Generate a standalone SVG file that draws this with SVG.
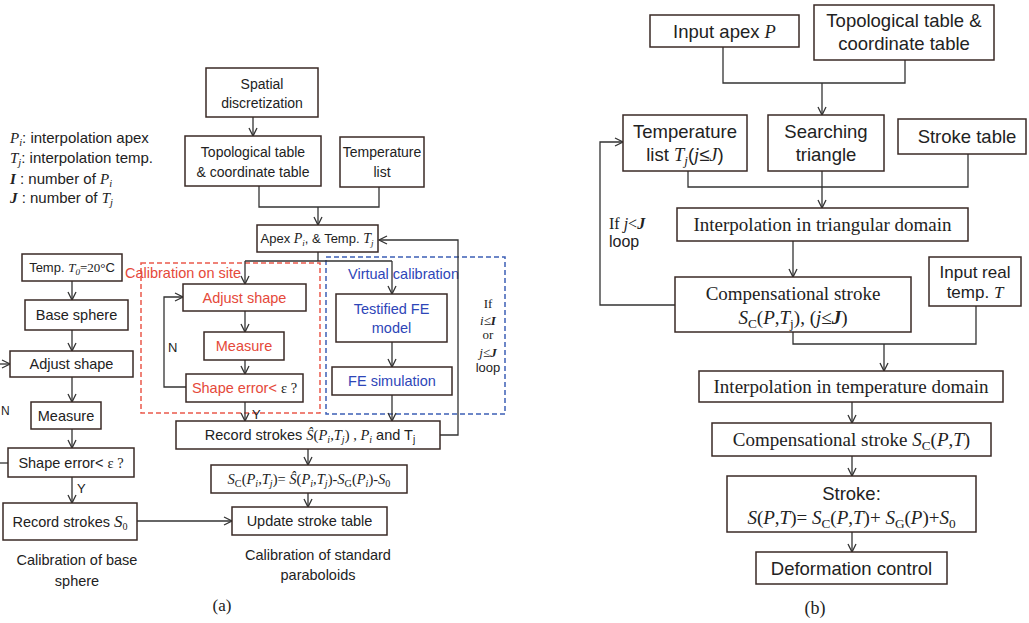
<svg xmlns="http://www.w3.org/2000/svg" width="1029" height="623" viewBox="0 0 1029 623">
<style>
.box{fill:#fff;stroke:#3a2a26;stroke-width:1.5}
.ln{fill:none;stroke:#333;stroke-width:1.3}
.ar{marker-end:url(#ah)}
.s{font-family:"Liberation Sans",Arial,sans-serif;fill:#222}
.r{font-family:"Liberation Serif","Times New Roman",serif;fill:#222}
.i{font-family:"Liberation Serif","Times New Roman",serif;font-style:italic}
.b{font-weight:bold}
.sb{font-size:70%}
.red{fill:#e5493a}
.blue{fill:#2e46b8}
.m{text-anchor:middle}
</style>
<defs>
<marker id="ah" markerWidth="12" markerHeight="12" refX="9" refY="5" orient="auto" markerUnits="userSpaceOnUse"><path d="M1,1 L9,5 L1,9" fill="none" stroke="#333" stroke-width="1.3"/></marker>
</defs>
<rect width="1029" height="623" fill="#fff"/>

<!-- legend -->
<g id="legend" font-size="15">
<text class="s" x="10" y="143"><tspan class="i">P</tspan><tspan class="sb i" dy="3">i</tspan><tspan dy="-3">: interpolation apex</tspan></text>
<text class="s" x="10" y="163"><tspan class="i">T</tspan><tspan class="sb i" dy="3">j</tspan><tspan dy="-3">: interpolation temp.</tspan></text>
<text class="s" x="10" y="184"><tspan class="i b">I</tspan> :  number of <tspan class="i">P</tspan><tspan class="sb i" dy="3">i</tspan></text>
<text class="s" x="10" y="203"><tspan class="i b">J</tspan> :  number of <tspan class="i">T</tspan><tspan class="sb i" dy="3">j</tspan></text>
</g>

<!-- dashed regions -->
<g id="regions">
<rect x="141" y="263" width="179" height="150" fill="none" stroke="#ea5a4c" stroke-width="1.5" stroke-dasharray="5,3"/>
<rect x="326" y="257" width="179" height="157" fill="none" stroke="#3d5fb5" stroke-width="1.5" stroke-dasharray="5,3"/>
<text class="s red" x="125" y="278" font-size="14.5">Calibration on site</text>
<text class="s blue" x="348" y="279" font-size="14.5">Virtual calibration</text>
</g>

<g id="connectors">
<!-- left column -->
<path class="ln ar" d="M72,281 V300"/>
<path class="ln ar" d="M72,330 V351"/>
<path class="ln ar" d="M72,377 V402"/>
<path class="ln ar" d="M72,429 V448"/>
<path class="ln ar" d="M72,477 V503"/>
<path class="ln ar" d="M0,364 H10"/>
<path class="ln" d="M8,463 H0"/>
<path class="ln ar" d="M137,521 H232"/>
<!-- middle -->
<path class="ln ar" d="M253,117 V136"/>
<path class="ln" d="M259,186 V207 H379 V187"/>
<path class="ln ar" d="M318,207 V225"/>
<path class="ln" d="M318,252 V261 M245,261 H392"/>
<path class="ln ar" d="M245,261 V284"/>
<path class="ln ar" d="M392,261 V294"/>
<path class="ln ar" d="M245,311 V332"/>
<path class="ln ar" d="M245,360 V374"/>
<path class="ln ar" d="M186,387 H164 V297 H183"/>
<path class="ln ar" d="M245,402 V421"/>
<path class="ln ar" d="M392,342 V367"/>
<path class="ln ar" d="M392,395 V421"/>
<path class="ln ar" d="M440,435 H458 V240 H379"/>
<path class="ln ar" d="M308,449 V465"/>
<path class="ln ar" d="M308,493 V507"/>
<!-- part b -->
<path class="ln" d="M723,47 V83 H905 V60"/>
<path class="ln ar" d="M822,83 V115"/>
<path class="ln" d="M688,171 V187 H968 V154"/>
<path class="ln ar" d="M822,171 V208"/>
<path class="ln ar" d="M675,305 H600 V142 H623"/>
<path class="ln ar" d="M793,241 V277"/>
<path class="ln" d="M793,332 V344 H976 V306"/>
<path class="ln ar" d="M884,344 V371"/>
<path class="ln ar" d="M852,402 V423"/>
<path class="ln ar" d="M852,456 V476"/>
<path class="ln ar" d="M852,532 V552"/>
</g>

<!-- connector labels -->
<g id="labels" font-size="13">
<text class="s" x="1" y="415" font-size="12">N</text>
<text class="s" x="77" y="493">Y</text>
<text class="s" x="168" y="352">N</text>
<text class="s" x="252" y="419">Y</text>
<text class="r m" x="488" y="308">If</text>
<text class="r m" x="488" y="325"><tspan class="i">i</tspan>≤<tspan class="i b">I</tspan></text>
<text class="r m" x="488" y="339">or</text>
<text class="r m" x="488" y="357"><tspan class="i">j</tspan>≤<tspan class="i b">J</tspan></text>
<text class="s m" x="488" y="372">loop</text>
<text class="r" x="609" y="229" font-size="16">If <tspan class="i">j</tspan>&lt;<tspan class="i b">J</tspan></text>
<text class="s" x="609" y="247" font-size="16">loop</text>
</g>

<!-- left column nodes -->
<g id="temp0"><rect class="box" x="22" y="254" width="100" height="27"/>
<text class="s m" x="72" y="272" font-size="13">Temp. <tspan class="i">T</tspan><tspan class="sb i" dy="3">0</tspan><tspan class="r" dy="-3">=20°</tspan>C</text></g>
<g id="basesphere"><rect class="box" x="25" y="300" width="103" height="30"/>
<text class="s m" x="76.5" y="320" font-size="14.5">Base sphere</text></g>
<g id="adjust0"><rect class="box" x="10" y="351" width="123" height="26"/>
<text class="s m" x="71.5" y="369" font-size="14.5">Adjust shape</text></g>
<g id="measure0"><rect class="box" x="31" y="402" width="70" height="27"/>
<text class="s m" x="66" y="420.5" font-size="14.5">Measure</text></g>
<g id="shapeerr0"><rect class="box" x="8" y="448" width="126" height="29"/>
<text class="s m" x="71" y="468" font-size="14.5">Shape error&lt; <tspan class="r">ε ?</tspan></text></g>
<g id="record0"><rect class="box" x="3" y="503" width="134" height="37"/>
<text class="s m" x="70" y="527" font-size="14.5">Record strokes <tspan class="i" font-size="17">S</tspan><tspan class="r sb" dy="3">0</tspan></text></g>
<text class="s m" x="77" y="565" font-size="14.5">Calibration of base</text>
<text class="s m" x="77" y="586" font-size="14.5">sphere</text>

<!-- middle nodes -->
<g id="spatial"><rect class="box" x="206" y="68" width="112" height="49"/>
<text class="s m" x="262" y="89" font-size="14">Spatial</text>
<text class="s m" x="262" y="108" font-size="14">discretization</text></g>
<g id="topo_a"><rect class="box" x="185" y="136" width="136" height="50"/>
<text class="s m" x="253" y="157" font-size="14">Topological table</text>
<text class="s m" x="253" y="177" font-size="14">&amp; coordinate table</text></g>
<g id="templist_a"><rect class="box" x="340" y="137" width="84" height="50"/>
<text class="s m" x="382" y="157" font-size="14">Temperature</text>
<text class="s m" x="382" y="177" font-size="14">list</text></g>
<g id="apex"><rect class="box" x="257" y="225" width="121" height="27"/>
<text class="s m" x="317" y="243" font-size="13">Apex <tspan class="i" font-size="14">P</tspan><tspan class="sb i" dy="3">i</tspan><tspan dy="-3">, &amp; Temp. </tspan><tspan class="i" font-size="14">T</tspan><tspan class="sb i" dy="3">j</tspan></text></g>
<g id="adjust1"><rect class="box" x="183" y="284" width="123" height="27"/>
<text class="s m red" x="244.5" y="302.5" font-size="14.5">Adjust shape</text></g>
<g id="measure1"><rect class="box" x="204" y="332" width="80" height="28"/>
<text class="s m red" x="244" y="351" font-size="14.5">Measure</text></g>
<g id="shapeerr1"><rect class="box" x="186" y="374" width="117" height="28"/>
<text class="s m red" x="244.5" y="393" font-size="14.5">Shape error&lt; <tspan class="r">ε ?</tspan></text></g>
<g id="fe_model"><rect class="box" x="336" y="294" width="111" height="48"/>
<text class="s m blue" x="391.5" y="314" font-size="14.5">Testified FE</text>
<text class="s m blue" x="391.5" y="333" font-size="14.5">model</text></g>
<g id="fe_sim"><rect class="box" x="332" y="367" width="120" height="28"/>
<text class="s m blue" x="392" y="386" font-size="14.5">FE simulation</text></g>
<g id="record1"><rect class="box" x="176" y="421" width="264" height="28"/>
<text class="s m" x="310" y="440" font-size="14.5">Record strokes <tspan class="i">Ŝ</tspan><tspan class="r">(</tspan><tspan class="i">P</tspan><tspan class="sb i" dy="3">i</tspan><tspan class="r" dy="-3">,</tspan><tspan class="i">T</tspan><tspan class="sb i" dy="3">j</tspan><tspan class="r" dy="-3">) , </tspan><tspan class="i">P</tspan><tspan class="sb i" dy="3">i</tspan><tspan dy="-3"> and T</tspan><tspan class="sb" dy="3">j</tspan></text></g>
<g id="sc_a"><rect class="box" x="211" y="465" width="196" height="28"/>
<text class="r m" x="309" y="484" font-size="14.5"><tspan class="i">S</tspan><tspan class="sb" dy="3">C</tspan><tspan dy="-3">(</tspan><tspan class="i">P</tspan><tspan class="sb i" dy="3">i</tspan><tspan dy="-3">,</tspan><tspan class="i">T</tspan><tspan class="sb i" dy="3">j</tspan><tspan dy="-3">)= </tspan><tspan class="i">Ŝ</tspan>(<tspan class="i">P</tspan><tspan class="sb i" dy="3">i</tspan><tspan dy="-3">,</tspan><tspan class="i">T</tspan><tspan class="sb i" dy="3">j</tspan><tspan dy="-3">)-</tspan><tspan class="i">S</tspan><tspan class="sb" dy="3">G</tspan><tspan dy="-3">(</tspan><tspan class="i">P</tspan><tspan class="sb i" dy="3">i</tspan><tspan dy="-3">)-</tspan><tspan class="i">S</tspan><tspan class="sb" dy="3">0</tspan></text></g>
<g id="update"><rect class="box" x="232" y="507" width="155" height="28"/>
<text class="s m" x="309.5" y="526" font-size="14.5">Update stroke table</text></g>
<text class="s m" x="318" y="560" font-size="14.5">Calibration of standard</text>
<text class="s m" x="318" y="580" font-size="14.5">paraboloids</text>
<text class="r m" x="222" y="611" font-size="17">(a)</text>

<!-- part b nodes -->
<g id="inputapex"><rect class="box" x="650" y="15" width="149" height="32"/>
<text class="s m" x="724.5" y="38" font-size="18.5">Input apex <tspan class="i">P</tspan></text></g>
<g id="topo_b"><rect class="box" x="814" y="5" width="180" height="55"/>
<text class="s m" x="904" y="27" font-size="18.5">Topological table &amp;</text>
<text class="s m" x="904" y="50" font-size="18.5">coordinate table</text></g>
<g id="templist_b"><rect class="box" x="623" y="115" width="124" height="56"/>
<text class="s m" x="685" y="138" font-size="18.5">Temperature</text>
<text class="s m" x="685" y="161" font-size="18.5">list <tspan class="i">T</tspan><tspan class="sb i" dy="4">j</tspan><tspan dy="-4">(</tspan><tspan class="i">j</tspan>≤<tspan class="i">J</tspan>)</text></g>
<g id="searching"><rect class="box" x="768" y="115" width="116" height="56"/>
<text class="s m" x="826" y="138" font-size="18.5">Searching</text>
<text class="s m" x="826" y="161" font-size="18.5">triangle</text></g>
<g id="stroketable"><rect class="box" x="898" y="119" width="128" height="35"/>
<text class="s m" x="967" y="143" font-size="18.5">Stroke table</text></g>
<g id="interp_tri"><rect class="box" x="677" y="208" width="291" height="33"/>
<text class="r m" x="822.5" y="231" font-size="19">Interpolation in triangular domain</text></g>
<g id="comp_j"><rect class="box" x="675" y="277" width="236" height="55"/>
<text class="r m" x="793" y="300" font-size="19">Compensational stroke</text>
<text class="r m" x="793" y="324" font-size="19"><tspan class="i">S</tspan><tspan class="sb" dy="4">C</tspan><tspan dy="-4">(</tspan><tspan class="i">P</tspan>,<tspan class="i">T</tspan><tspan class="sb" dy="4">j</tspan><tspan dy="-4">), (</tspan><tspan class="i">j</tspan>≤<tspan class="i b">J</tspan>)</text></g>
<g id="realtemp"><rect class="box" x="929" y="257" width="92" height="49"/>
<text class="s m" x="975" y="278" font-size="17">Input real</text>
<text class="s m" x="975" y="298" font-size="17">temp. <tspan class="i">T</tspan></text></g>
<g id="interp_temp"><rect class="box" x="699" y="371" width="304" height="31"/>
<text class="r m" x="851" y="393" font-size="19">Interpolation in temperature domain</text></g>
<g id="comp_t"><rect class="box" x="712" y="423" width="279" height="33"/>
<text class="r m" x="851.5" y="446" font-size="19">Compensational stroke <tspan class="i">S</tspan><tspan class="sb" dy="4">C</tspan><tspan dy="-4">(</tspan><tspan class="i">P</tspan>,<tspan class="i">T</tspan>)</text></g>
<g id="stroke"><rect class="box" x="727" y="476" width="249" height="56"/>
<text class="s m" x="851.5" y="500" font-size="18.5">Stroke:</text>
<text class="r m" x="851.5" y="524" font-size="19"><tspan class="i">S</tspan>(<tspan class="i">P</tspan>,<tspan class="i">T</tspan>)= <tspan class="i">S</tspan><tspan class="sb" dy="4">C</tspan><tspan dy="-4">(</tspan><tspan class="i">P</tspan>,<tspan class="i">T</tspan>)+ <tspan class="i">S</tspan><tspan class="sb" dy="4">G</tspan><tspan dy="-4">(</tspan><tspan class="i">P</tspan>)+<tspan class="i">S</tspan><tspan class="sb" dy="4">0</tspan></text></g>
<g id="deform"><rect class="box" x="756" y="552" width="191" height="32"/>
<text class="s m" x="851.5" y="575" font-size="18.5">Deformation control</text></g>
<text class="r m" x="815" y="614" font-size="18">(b)</text>
</svg>
